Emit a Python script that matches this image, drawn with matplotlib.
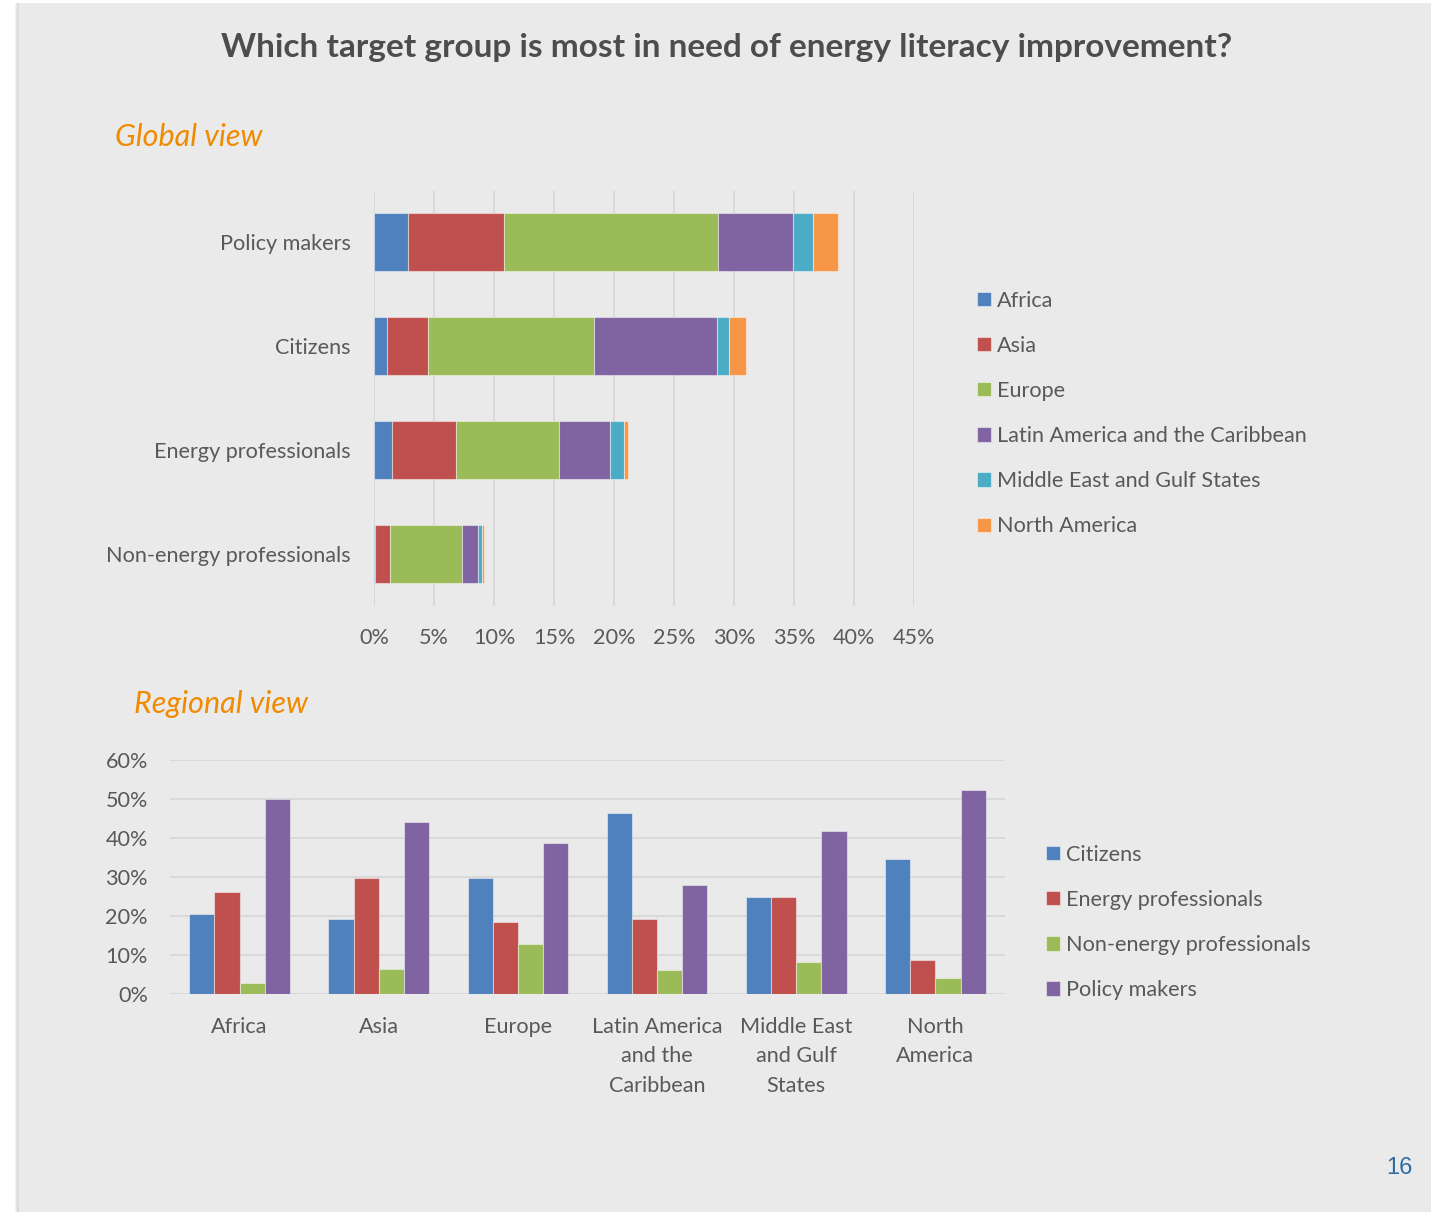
import numpy as np
import matplotlib
matplotlib.use("Agg")
import matplotlib.pyplot as plt
from matplotlib.patches import Rectangle

# ---- data ----
groups = ["Policy makers", "Citizens", "Energy professionals", "Non-energy professionals"]
regions = ["Africa", "Asia", "Europe", "Latin America and the Caribbean",
           "Middle East and Gulf States", "North America"]

# global view: share of answers per region, stacked for each target group (%)
glob_africa = [2.8, 1.1, 1.5, 0.1]
glob_asia = [8.0, 3.4, 5.3, 1.2]
glob_europe = [17.9, 13.8, 8.6, 6.0]
glob_latam = [6.2, 10.3, 4.3, 1.4]
glob_mideast = [1.7, 1.0, 1.1, 0.3]
glob_namerica = [2.1, 1.4, 0.4, 0.2]

# regional view: share per target group inside each region (%)
reg_labels = ["Africa", "Asia", "Europe", "Latin America\nand the\nCaribbean",
              "Middle East\nand Gulf\nStates", "North\nAmerica"]
reg_groups = ["Citizens", "Energy professionals", "Non-energy professionals", "Policy makers"]
reg_citizens = [20.5, 19.2, 29.7, 46.5, 25.0, 34.7]
reg_energy = [26.3, 29.7, 18.6, 19.3, 25.0, 8.7]
reg_nonenergy = [2.9, 6.6, 12.9, 6.1, 8.3, 4.2]
reg_policy = [50.0, 44.2, 38.7, 27.9, 41.7, 52.2]

colors = ["#4F81BD", "#C0504D", "#9BBB59", "#8064A2", "#4BACC6", "#F79646"]
txt_col = "#595959"
grid_col = "#D9D9D9"
orange = "#F08A00"
fs = 15.6

plt.rcParams["font.family"] = ["Lato", "DejaVu Sans"]

W, H = 1431, 1212
fig = plt.figure(figsize=(W / 100, H / 100), dpi=100, facecolor="white")

# grey page with a soft shadow on the left
for i, c in enumerate(["#F3F3F3", "#E6E6E6", "#DCDCDC"]):
    fig.patches.append(Rectangle(((15 + i) / W, 0), 1, 1 - 3 / H, transform=fig.transFigure,
                                 facecolor=c, edgecolor="none", zorder=-13 + i))
fig.patches.append(Rectangle((19 / W, 0), 1, 1 - 3 / H, transform=fig.transFigure,
                             facecolor="#EAEAEA", edgecolor="none", zorder=-9))

fig.text(727 / W, 1 - 48 / H, "Which target group is most in need of energy literacy improvement?",
         ha="center", va="center", fontsize=24, fontweight="bold", color="#4D4D4D")
fig.text(115 / W, 1 - 137 / H, "Global view", ha="left", va="center", fontsize=22,
         style="italic", color=orange)
fig.text(134 / W, 1 - 704 / H, "Regional view", ha="left", va="center", fontsize=22,
         style="italic", color=orange)
fig.text(1413 / W, 1 - 1168 / H, "16", ha="right", va="center", fontsize=17,
         color="#2E6DA4", family="Liberation Sans")

edge = (1, 1, 1, 0.45)
leg_kw = dict(bbox_transform=fig.transFigure, frameon=False, fontsize=fs,
              labelcolor=txt_col, handlelength=0.64, handleheight=0.64,
              handletextpad=0.28, labelspacing=1.16, borderpad=0, borderaxespad=0)

# ---- global view: stacked horizontal bars ----
ax1 = fig.add_axes([374 / W, 1 - 605.5 / H, 540 / W, 415 / H])
ax1.set_facecolor("none")
y = np.arange(len(groups))
left = np.zeros(len(groups))
series = [glob_africa, glob_asia, glob_europe, glob_latam, glob_mideast, glob_namerica]
for name, vals, c in zip(regions, series, colors):
    vals = np.array(vals) / 100
    ax1.barh(y, vals, left=left, height=0.56, color=c, edgecolor=edge, linewidth=0.8,
             label=name, zorder=3)
    left += vals
ax1.set_xlim(0, 0.45)
ax1.set_ylim(3.5, -0.5)
ticks1 = np.arange(0, 0.451, 0.05)
ax1.set_xticks(ticks1)
ax1.set_xticklabels([f"{int(round(v * 100))}%" for v in ticks1])
ax1.set_yticks(y)
ax1.set_yticklabels(groups)
ax1.grid(axis="x", color=grid_col, linewidth=1.4, zorder=0)
ax1.tick_params(length=0, labelsize=fs, labelcolor=txt_col)
ax1.tick_params(axis="y", pad=17)
ax1.tick_params(axis="x", pad=16)
for s in ax1.spines.values():
    s.set_visible(False)
ax1.legend(loc="center left", bbox_to_anchor=(977 / W, 1 - 413.5 / H), **leg_kw)

# ---- regional view: clustered columns ----
ax2 = fig.add_axes([170 / W, 1 - 994.3 / H, 835 / W, 234.3 / H])
ax2.set_facecolor("none")
x = np.arange(len(reg_labels))
bw = 0.181
reg_series = [reg_citizens, reg_energy, reg_nonenergy, reg_policy]
for k, (name, vals, c) in enumerate(zip(reg_groups, reg_series, colors[:4])):
    ax2.bar(x + (k - 1.5) * bw, np.array(vals) / 100, width=bw, color=c, edgecolor=edge,
            linewidth=0.8, label=name, zorder=3)
ax2.set_xlim(-0.5, len(reg_labels) - 0.5)
ax2.set_ylim(0, 0.6)
ticks2 = np.arange(0, 0.61, 0.1)
ax2.set_yticks(ticks2)
ax2.set_yticklabels([f"{int(round(v * 100))}%" for v in ticks2])
ax2.set_xticks(x)
ax2.set_xticklabels(reg_labels, linespacing=1.6)
ax2.grid(axis="y", color=grid_col, linewidth=1.4, zorder=0)
ax2.tick_params(length=0, labelsize=fs, labelcolor=txt_col)
ax2.tick_params(axis="y", pad=16)
ax2.tick_params(axis="x", pad=16)
for s in ax2.spines.values():
    s.set_visible(False)
ax2.legend(loc="center left", bbox_to_anchor=(1046 / W, 1 - 922.5 / H), **leg_kw)

fig.savefig("out.png", dpi=100)
